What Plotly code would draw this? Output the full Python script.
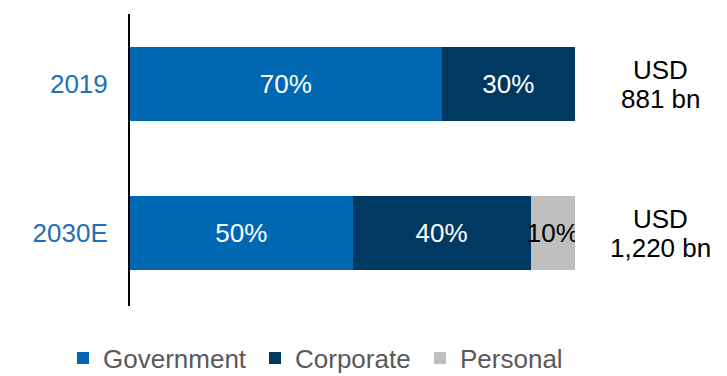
import plotly.graph_objects as go

# Market split by payer segment, share of total (%)
years = ["2019", "2030E"]
segments = ["Government", "Corporate", "Personal"]
government = [70, 50]
corporate = [30, 40]
personal = [0, 10]
currency = "USD"
totals = ["881 bn", "1,220 bn"]

colors = {"Government": "#0068B3", "Corporate": "#003A63", "Personal": "#BFBFBF"}
text_colors = {"Government": "white", "Corporate": "white", "Personal": "black"}
values = {"Government": government, "Corporate": corporate, "Personal": personal}

font_family = "Liberation Sans, Arial, sans-serif"
label_size = 26

# one legend box per segment so the row stays on a single line under the plot
legend_ids = ["legend", "legend2", "legend3"]
legend_x = [63, 255, 420]
legend_w = [150, 125, 110]

fig = go.Figure()
for seg, lid in zip(segments, legend_ids):
    vals = values[seg]
    fig.add_trace(go.Bar(
        y=years,
        x=vals,
        name=seg,
        orientation="h",
        legend=lid,
        marker=dict(color=colors[seg], line=dict(width=0)),
        text=[f"{v}%" if v else "" for v in vals],
        textposition="inside",
        insidetextanchor="middle",
        textangle=0,
        constraintext="none",
        textfont=dict(color=text_colors[seg], size=label_size, family=font_family),
        hoverinfo="skip",
    ))

# Total market size to the right of each bar, currency above the amount
for i, amount in enumerate(totals):
    for txt, shift in ((currency, 14), (amount, -15)):
        fig.add_annotation(
            x=1.193, xref="paper", y=i, yref="y", yshift=shift,
            text=txt, showarrow=False,
            font=dict(size=label_size, color="black", family=font_family),
            xanchor="center", yanchor="middle", align="center",
        )

W, H = 727, 376
legend_style = dict(
    orientation="h",
    xref="container", yref="container",
    xanchor="left",
    y=1 - 358 / H, yanchor="middle",
    font=dict(size=label_size, color="#595959", family=font_family),
    itemwidth=30,
    entrywidthmode="pixels",
    bgcolor="rgba(0,0,0,0)",
)

fig.update_layout(
    width=W, height=H,
    margin=dict(l=130, r=152, t=14, b=70, autoexpand=False),
    barmode="stack",
    bargap=0.5,
    plot_bgcolor="white",
    paper_bgcolor="white",
    font=dict(family=font_family),
    showlegend=True,
    xaxis=dict(range=[0, 100], visible=False, fixedrange=True),
    yaxis=dict(
        type="category",
        range=[1.49, -0.47],
        showline=True, linecolor="black", linewidth=2,
        showgrid=False, zeroline=False,
        ticks="",
        ticklabelstandoff=15,
        tickfont=dict(size=label_size, color="#1F70B8", family=font_family),
    ),
)
for lid, lx, lw in zip(legend_ids, legend_x, legend_w):
    fig.update_layout({lid: dict(legend_style, x=lx / W, entrywidth=lw)})

fig.write_html("out.html")
